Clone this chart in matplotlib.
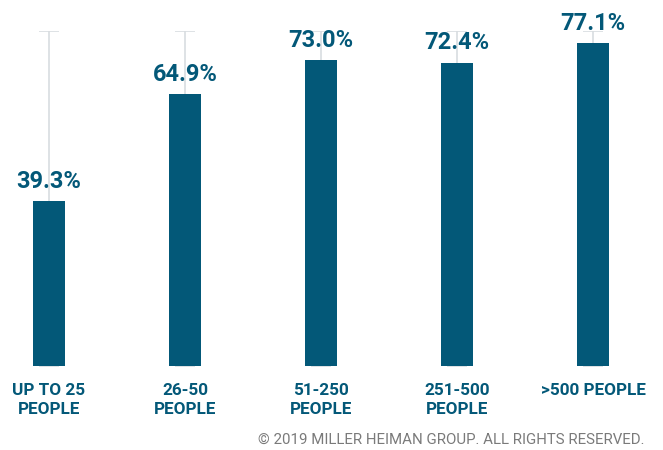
import matplotlib
matplotlib.use('Agg')
from matplotlib import pyplot as plt

categories = ['UP TO 25\nPEOPLE', '26-50\nPEOPLE', '51-250\nPEOPLE', '251-500\nPEOPLE', '>500 PEOPLE']
values = [39.3, 64.9, 73.0, 72.4, 77.1]
track_max = 80

TEAL = '#035878'
GREY_LINE = '#d8dde0'

plt.rcParams['font.family'] = ['Roboto', 'DejaVu Sans']


def main():
    fig = plt.figure(figsize=(6.63, 4.5), dpi=100)
    # baseline at 84 px from bottom, track top at 419 px
    ax = fig.add_axes([0, 84 / 450, 1, 335 / 450])
    x = list(range(len(values)))

    # grey background whiskers with caps
    ax.errorbar(x, [track_max] * len(x), yerr=[[track_max] * len(x), [0] * len(x)],
                fmt='none', ecolor=GREY_LINE, elinewidth=1.2, capsize=7, capthick=1.2, zorder=1)
    ax.bar(x, values, width=0.235, color=TEAL, zorder=2)

    for xi, v in zip(x, values):
        ax.annotate(f'{v:.1f}%', (xi, v), xytext=(0, 6), textcoords='offset points',
                    ha='center', va='bottom', fontsize=17, fontweight='bold', color=TEAL, zorder=3)

    ax.set_xlim(-49 / 136, (663 - 49) / 136)
    ax.set_ylim(0, track_max)
    ax.set_xticks(x)
    ax.set_xticklabels(categories, fontsize=12.3, fontweight='bold', color=TEAL, linespacing=1.35)
    ax.tick_params(axis='x', length=0, pad=12)
    ax.set_yticks([])
    for s in ax.spines.values():
        s.set_visible(False)
    ax.patch.set_alpha(0)

    fig.text(645 / 663, 1 - 440 / 450, '\u00a9 2019 MILLER HEIMAN GROUP. ALL RIGHTS RESERVED.',
             ha='right', va='center', fontsize=10.8, color='#7a7a7a')

    plt.savefig('out.png', dpi=100)


if __name__ == '__main__':
    main()
